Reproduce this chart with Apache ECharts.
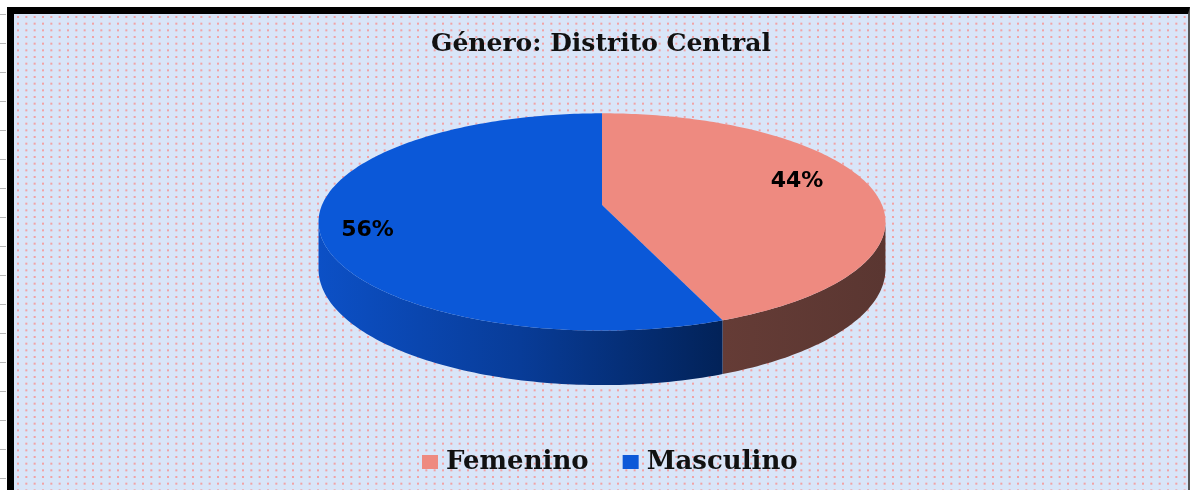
<!DOCTYPE html>
<html>
<head>
<meta charset="utf-8">
<script src="https://cdn.jsdelivr.net/npm/echarts@6/dist/echarts.min.js"></script>
<style>
  html, body { margin: 0; padding: 0; background: #fff; width: 1192px; height: 490px; overflow: hidden; }
  .ticks { position: absolute; left: 0; top: 0; width: 6px; height: 490px;
    background-image: linear-gradient(to bottom, #b8b8b8 0, #b8b8b8 1px, transparent 1px, transparent 29px);
    background-size: 6px 29px; background-position: 0 14px; background-repeat: repeat-y; }
  .frame { position: absolute; left: 7px; top: 7px; width: 1183px; height: 490px; box-sizing: border-box;
    border-top: 7px solid #000; border-left: 7px solid #000; border-right: 2px solid #555; }
  #chart { width: 1174px; height: 476px; }
</style>
</head>
<body>
<div class="ticks"></div>
<div class="frame"><div id="chart"></div></div>
<script>
// 数据
var categories = ['Femenino', 'Masculino'];
var values = [44, 56];
var topColors = ['#ee8a80', '#0b58d8'];

// 3D 饼图几何（图内坐标）
var CX = 588, CY = 191, RX = 280, RY = 106, DEPTH = 46, K = -0.156;
var SIL = Math.acos(K) * 180 / Math.PI; // 侧面可见范围

var total = values.reduce(function (s, v) { return s + v; }, 0);

function sliceAngles(i) {
  var start = 0;
  for (var k = 0; k < i; k++) start += values[k];
  return [start / total * 360, (start + values[i]) / total * 360];
}

// 角度：从正上方顺时针，r：半径比例，drop：向下厚度比例
function proj(theta, r, drop) {
  var rad = theta * Math.PI / 180;
  var u = r * Math.sin(rad), v = -r * Math.cos(rad);
  var w = 1 + K * v;
  return [CX + RX * u / w, CY + (RY * v + DEPTH * drop) / w];
}

function arc(a, b, r, drop) {
  var pts = [];
  var step = a < b ? 1 : -1;
  for (var t = a; step > 0 ? t < b : t > b; t += step) pts.push(proj(t, r, drop));
  pts.push(proj(b, r, drop));
  return pts;
}

var sideFills = [
  new echarts.graphic.LinearGradient(0, 0, 1, 0, [
    { offset: 0, color: '#653c36' }, { offset: 1, color: '#5a3631' }
  ]),
  new echarts.graphic.LinearGradient(0, 0, 1, 0, [
    { offset: 0, color: '#0c50c6' }, { offset: 0.5, color: '#083c98' }, { offset: 1, color: '#022258' }
  ])
];

function renderSide(params, api) {
  var a = sliceAngles(params.dataIndex);
  var s = Math.max(a[0], SIL), e = Math.min(a[1], 360 - SIL);
  if (e <= s) return null;
  var pts = arc(s, e, 1, 0).concat(arc(e, s, 1, 1));
  return { type: 'polygon', shape: { points: pts }, style: { fill: sideFills[params.dataIndex] } };
}

function renderTop(params, api) {
  var i = params.dataIndex;
  var a = sliceAngles(i);
  var pts = [proj(0, 0, 0)].concat(arc(a[0], a[1], 1, 0));
  var mid = (a[0] + a[1]) / 2 - 6;
  var lp = proj(mid, 0.8, 0);
  return {
    type: 'group',
    children: [
      { type: 'polygon', shape: { points: pts }, style: { fill: topColors[i] } },
      { type: 'text', x: lp[0] - 12, y: lp[1], style: {
          text: Math.round(api.value(0) / total * 100) + '%',
          fill: '#000', font: 'bold 22px "DejaVu Sans"', align: 'center', verticalAlign: 'middle'
        } }
    ]
  };
}

// 背景点阵
var tile = document.createElement('canvas');
tile.width = 25; tile.height = 20;
var ctx = tile.getContext('2d');
ctx.fillStyle = '#d9e5f8';
ctx.fillRect(0, 0, 25, 20);
ctx.fillStyle = 'rgba(245,150,150,0.85)';
for (var i = 0; i < 3; i++) {
  for (var j = 0; j < 3; j++) {
    ctx.fillRect(3 + i * 8.33, 2 + j * 6.67, 2, 2);
  }
}

var chart = echarts.init(document.getElementById('chart'));
var option = {
  backgroundColor: { image: tile, repeat: 'repeat' },
  animation: false,
  title: {
    text: 'Género: Distrito Central',
    left: 'center', top: 18, padding: 0,
    textStyle: { fontFamily: 'DejaVu Serif', fontWeight: 'bold', fontSize: 25, color: '#111' }
  },
  legend: {
    left: 403, top: 430, selectedMode: false,
    icon: 'rect', itemWidth: 16, itemHeight: 14, itemGap: 34,
    data: categories,
    textStyle: { fontFamily: 'DejaVu Serif', fontWeight: 'bold', fontSize: 26, color: '#111', padding: [0, 0, 0, 3] }
  },
  series: [
    {
      type: 'pie', silent: true, z: 0,
      center: [CX, CY], radius: [0, 1],
      label: { show: false }, labelLine: { show: false },
      data: categories.map(function (c, i) {
        return { name: c, value: values[i], itemStyle: { color: topColors[i] } };
      })
    },
    { type: 'custom', coordinateSystem: 'none', silent: true, z: 1, renderItem: renderSide, data: values },
    { type: 'custom', coordinateSystem: 'none', silent: true, z: 2, renderItem: renderTop, data: values }
  ]
};
chart.setOption(option);
</script>
</body>
</html>
